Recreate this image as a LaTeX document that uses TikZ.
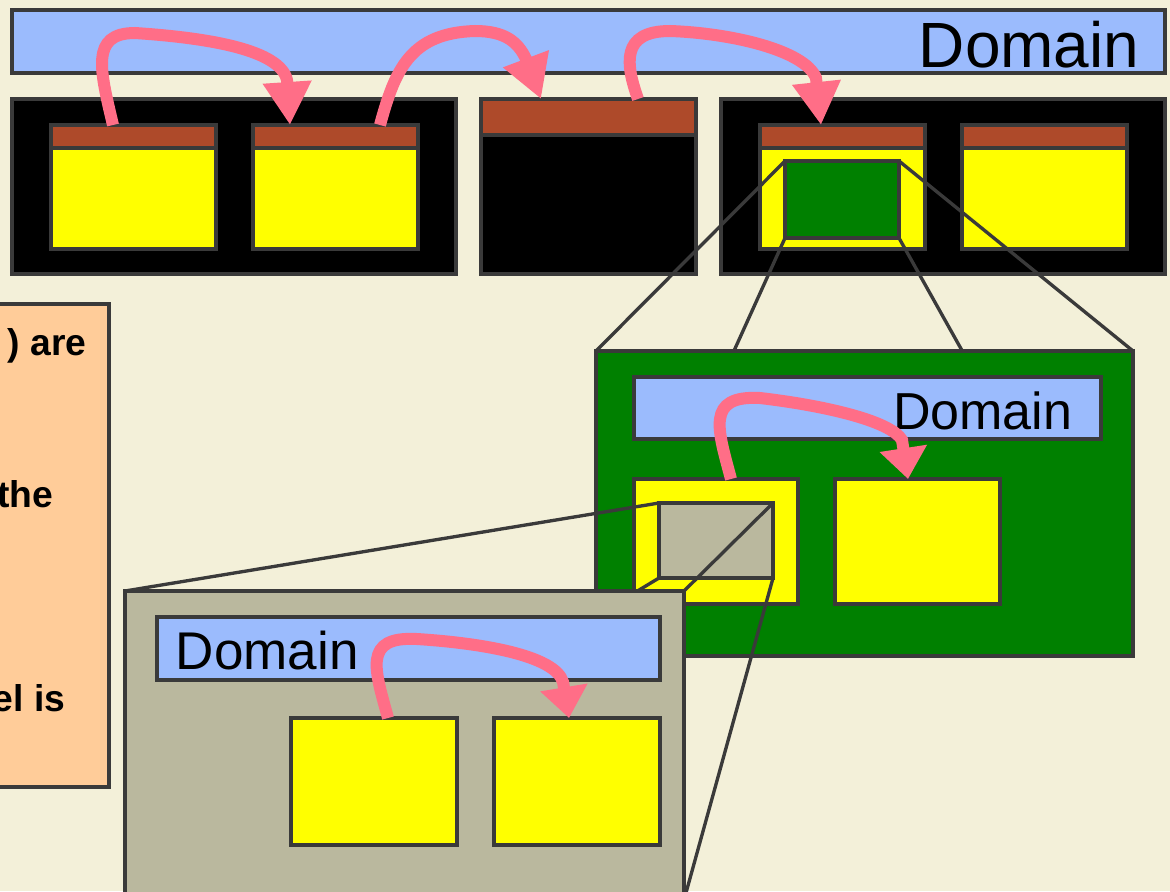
\documentclass[tikz,border=0pt]{standalone}
\usepackage{fontspec}
\setmainfont{Liberation Sans}
\usepackage{tikz}
\usetikzlibrary{arrows.meta}

\definecolor{cream}{RGB}{243,240,217}
\definecolor{domblue}{RGB}{155,187,253}
\definecolor{hdrbrown}{RGB}{174,74,42}
\definecolor{procyellow}{RGB}{255,255,0}
\definecolor{vmgreen}{RGB}{0,128,0}
\definecolor{vmgray}{RGB}{186,184,158}
\definecolor{noteorange}{RGB}{255,204,153}
\definecolor{callpink}{RGB}{255,110,135}
\definecolor{edge}{RGB}{58,58,58}

\tikzset{
  box/.style={draw=edge, line width=0.95pt, inner sep=0pt, outer sep=0pt, anchor=north west},
  zoomline/.style={draw=edge, line width=0.95pt},
  call/.style={draw=callpink, line width=0.12cm, -{Triangle[length=0.43cm,width=0.46cm]}},
  callin/.style={call, -{Triangle[length=0.31cm,width=0.46cm]}},
}

\begin{document}
\begin{tikzpicture}
\useasboundingbox (0,0) rectangle (11.7,8.91);
\fill[cream] (0,0) rectangle (11.7,8.91);
\clip (0,0) rectangle (11.7,8.91);

% top level
\node[box, fill=domblue, minimum width=11.53cm, minimum height=0.63cm] (dom) at (0.12,8.81) {};
\node[anchor=base east, inner sep=0pt, font=\fontsize{18.2}{20}\selectfont] (domlbl) at (11.40,8.24) {Domain};
\node[box, fill=black, minimum width=4.44cm, minimum height=1.75cm] (cpu1) at (0.12,7.92) {};
\node[box, fill=black, minimum width=2.15cm, minimum height=1.75cm] (cpu2) at (4.81,7.92) {};
\node[box, fill=hdrbrown, minimum width=2.15cm, minimum height=0.36cm] (hdr) at (4.81,7.92) {};
\node[box, fill=black, minimum width=4.44cm, minimum height=1.75cm] (cpu3) at (7.21,7.92) {};

\node[box, fill=hdrbrown, minimum width=1.65cm, minimum height=0.23cm] (b1) at (0.51,7.66) {};
\node[box, fill=procyellow, minimum width=1.65cm, minimum height=1.01cm] (p1) at (0.51,7.43) {};
\node[box, fill=hdrbrown, minimum width=1.65cm, minimum height=0.23cm] (b2) at (2.53,7.66) {};
\node[box, fill=procyellow, minimum width=1.65cm, minimum height=1.01cm] (p2) at (2.53,7.43) {};
\node[box, fill=hdrbrown, minimum width=1.65cm, minimum height=0.23cm] (b3) at (7.60,7.66) {};
\node[box, fill=procyellow, minimum width=1.65cm, minimum height=1.01cm] (p3) at (7.60,7.43) {};
\node[box, fill=hdrbrown, minimum width=1.65cm, minimum height=0.23cm] (b4) at (9.62,7.66) {};
\node[box, fill=procyellow, minimum width=1.65cm, minimum height=1.01cm] (p4) at (9.62,7.43) {};
\node[box, fill=vmgreen, minimum width=1.14cm, minimum height=0.77cm] (zg) at (7.85,7.30) {};

% green level
\node[box, fill=vmgreen, minimum width=5.37cm, minimum height=3.05cm] (gbox) at (5.96,5.40) {};
\draw[zoomline] (zg.north west) -- (gbox.north west);
\draw[zoomline] (zg.north east) -- (gbox.north east);
\draw[zoomline] (zg.south west) -- (gbox.south west);
\draw[zoomline] (zg.south east) -- (gbox.south east);
\node[box, fill=vmgreen, minimum width=5.37cm, minimum height=3.05cm] (gbox) at (5.96,5.40) {};
\node[box, fill=domblue, minimum width=4.67cm, minimum height=0.62cm] (gdom) at (6.34,5.14) {};
\node[anchor=base east, inner sep=0pt, font=\fontsize{14.8}{17}\selectfont] (gdomlbl) at (10.73,4.62) {Domain};
\node[box, fill=procyellow, minimum width=1.64cm, minimum height=1.25cm] (gy1) at (6.34,4.12) {};
\node[box, fill=procyellow, minimum width=1.65cm, minimum height=1.25cm] (gy2) at (8.35,4.12) {};
\node[box, fill=vmgray, minimum width=1.14cm, minimum height=0.75cm] (za) at (6.59,3.88) {};

% gray level
\draw[zoomline] (za.north west) -- (1.25,3.00);
\draw[zoomline] (za.north east) -- (6.84,3.00);
\draw[zoomline] (za.south west) -- (1.25,-0.09);
\draw[zoomline] (za.south east) -- (6.84,-0.09);
\node[box, fill=vmgray, minimum width=5.59cm, minimum height=3.09cm] (abox) at (1.25,3.00) {};
\node[box, fill=domblue, minimum width=5.03cm, minimum height=0.63cm] (adom) at (1.57,2.74) {};
\node[anchor=base west, inner sep=0pt, font=\fontsize{15.1}{17}\selectfont] (adomlbl) at (1.75,2.22) {Domain};
\node[box, fill=procyellow, minimum width=1.66cm, minimum height=1.27cm] (ay1) at (2.91,1.73) {};
\node[box, fill=procyellow, minimum width=1.66cm, minimum height=1.27cm] (ay2) at (4.94,1.73) {};

% note on the left
\node[box, fill=noteorange, minimum width=2.09cm, minimum height=4.83cm] (note) at (-1.00,5.87) {};
\node[anchor=base east, inner sep=0pt, font=\bfseries\fontsize{10.6}{12}\selectfont] (n1) at (0.87,5.36) {) are};
\node[anchor=base east, inner sep=0pt, font=\bfseries\fontsize{10.6}{12}\selectfont] (n2) at (0.54,3.84) {the};
\node[anchor=base east, inner sep=0pt, font=\bfseries\fontsize{10.6}{12}\selectfont] (n3) at (0.66,1.80) {el is};

% calls
\draw[call] ([xshift=6.2mm]b1.north west) .. controls (1.00,8.21) and (0.90,8.58) .. (1.35,8.58)
  .. controls (2.10,8.53) and (2.80,8.41) .. (2.87,8.11) -- ([xshift=3.7mm]b2.north west);
\draw[call] ([xshift=12.7mm]b2.north west) .. controls (3.95,8.21) and (4.10,8.58) .. (4.75,8.60)
  .. controls (5.05,8.60) and (5.18,8.49) .. (5.26,8.32) -- ([xshift=6.0mm]hdr.north west);
\draw[call] ([xshift=15.7mm]hdr.north west) .. controls (6.26,8.26) and (6.20,8.60) .. (6.70,8.60)
  .. controls (7.30,8.58) and (8.05,8.41) .. (8.16,8.13) -- ([xshift=6.1mm]b3.north west);
\draw[callin] ([xshift=9.7mm]gy1.north west) .. controls (7.18,4.61) and (7.05,4.96) .. (7.60,4.93)
  .. controls (8.20,4.86) and (8.90,4.71) .. (9.02,4.51) -- ([xshift=7.3mm]gy2.north west);
\draw[callin] ([xshift=9.7mm]ay1.north west) .. controls (3.75,2.21) and (3.62,2.55) .. (4.17,2.52)
  .. controls (4.80,2.48) and (5.55,2.36) .. (5.63,2.09) -- ([xshift=7.5mm]ay2.north west);
\end{tikzpicture}
\end{document}
